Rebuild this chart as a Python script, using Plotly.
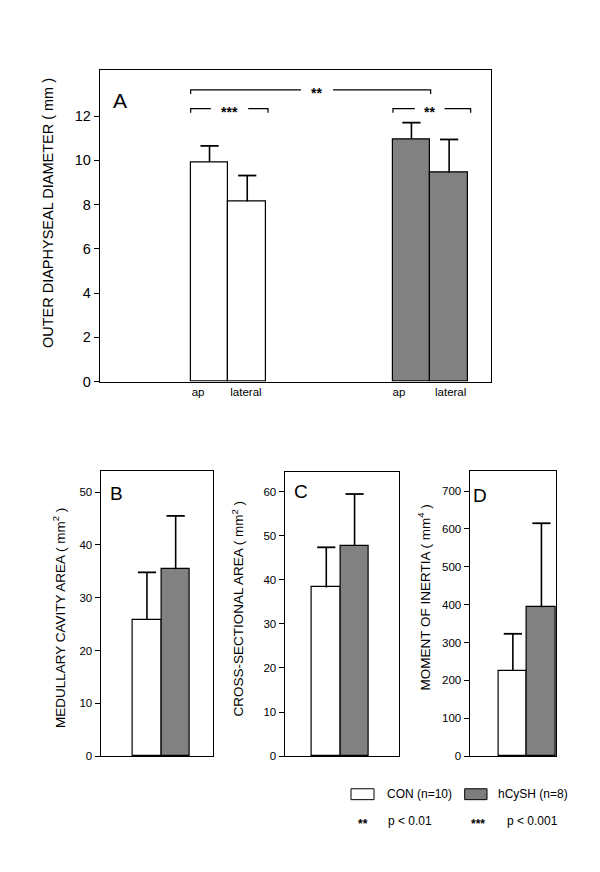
import plotly.graph_objects as go

# ---------------- data ----------------
groups = ["CON (n=10)", "hCySH (n=8)"]
a_sites = ["ap", "lateral"]
a_con_mean = [9.92, 8.14]
a_con_sd = [0.73, 1.17]
a_hcy_mean = [10.96, 9.43]
a_hcy_sd = [0.74, 1.51]

b_mean = [25.8, 35.4]
b_sd = [9.0, 10.1]
c_mean = [38.3, 47.7]
c_sd = [9.1, 11.8]
d_mean = [225, 393]
d_sd = [98, 222]

a_ticks = [0, 2, 4, 6, 8, 10, 12]
b_ticks = [0, 10, 20, 30, 40, 50]
c_ticks = [0, 10, 20, 30, 40, 50, 60]
d_ticks = [0, 100, 200, 300, 400, 500, 600, 700]

W, H = 600, 872
FONT = "Liberation Sans, Arial, Helvetica, sans-serif"
GREY = "#7d7d7d"

def px(x):
    return x / W

def py(y):
    return 1 - y / H

white_marker = dict(color="white", line=dict(color="black", width=1.2))
grey_marker = dict(
    color=GREY,
    line=dict(color="black", width=1.2),
    pattern=dict(shape=".", fgcolor="#4a4a4a", bgcolor="#8e8e8e", size=2, solidity=0.45),
)

fig = go.Figure()

def add_bars(xs, means, sds, marker, xa, ya):
    fig.add_trace(go.Bar(x=xs, y=means, width=1.0, marker=marker,
                         xaxis=xa, yaxis=ya, showlegend=False, hoverinfo="skip"))
    tops = [m + s for m, s in zip(means, sds)]
    # upper error bar only: cap marker at the top, stem down to the mean
    fig.add_trace(go.Scatter(
        x=xs, y=tops, mode="markers", xaxis=xa, yaxis=ya, showlegend=False,
        hoverinfo="skip", cliponaxis=False,
        marker=dict(symbol="line-ew", size=13, color="black",
                    line=dict(color="black", width=1.8)),
        error_y=dict(type="data", array=[0] * len(sds), arrayminus=sds,
                     symmetric=False, color="black", thickness=1.6, width=0),
    ))

# ---- panel A ----
a_group_pos = [2.905, 8.26]   # left bar centre of each group (axis units)
a_con_x = [a_group_pos[0] + i for i in range(len(a_sites))]
a_hcy_x = [a_group_pos[1] + i for i in range(len(a_sites))]
add_bars(a_con_x, a_con_mean, a_con_sd, white_marker, "x", "y")
add_bars(a_hcy_x, a_hcy_mean, a_hcy_sd, grey_marker, "x", "y")

# ---- panels B, C, D ----
small = [
    ("x2", "y2", b_mean, b_sd, 1.61),
    ("x3", "y3", c_mean, c_sd, 1.47),
    ("x4", "y4", d_mean, d_sd, 1.51),
]
for xa, ya, m, s, c0 in small:
    add_bars([c0], [m[0]], [s[0]], white_marker, xa, ya)
    add_bars([c0 + 1], [m[1]], [s[1]], grey_marker, xa, ya)

axis_common = dict(showline=True, mirror=True, linecolor="black", linewidth=1.3,
                   showgrid=False, zeroline=False, fixedrange=True)
yax_common = dict(axis_common, ticks="outside", ticklen=5, tickwidth=1, tickcolor="black")

layout = dict(
    width=W, height=H, margin=dict(l=0, r=0, t=0, b=0),
    paper_bgcolor="white", plot_bgcolor="white",
    font=dict(family=FONT, color="black"),
    bargap=0, barmode="overlay",
    xaxis=dict(axis_common, domain=[px(92), px(483)], range=[0, 10.37],
               tickvals=[2.6, 3.87, 7.93, 9.3], ticktext=a_sites * 2,
               ticks="", tickfont=dict(size=11.5), anchor="y"),
    yaxis=dict(yax_common, domain=[py(377), py(63)], range=[0, 14.06],
               tickvals=a_ticks, tickfont=dict(size=14.5), anchor="x"),
    xaxis2=dict(axis_common, domain=[px(92.7), px(205)], range=[0, 3.91],
                showticklabels=False, ticks="", anchor="y2"),
    yaxis2=dict(yax_common, domain=[py(755), py(467.3)], range=[0, 54.0],
                tickvals=b_ticks, tickfont=dict(size=11.5), anchor="x2"),
    xaxis3=dict(axis_common, domain=[px(276.7), px(390.7)], range=[0, 4.03],
                showticklabels=False, ticks="", anchor="y3"),
    yaxis3=dict(yax_common, domain=[py(755), py(468.3)], range=[0, 64.5],
                tickvals=c_ticks, tickfont=dict(size=11.5), anchor="x3"),
    xaxis4=dict(axis_common, domain=[px(461.7), px(548)], range=[0, 3.02],
                showticklabels=False, ticks="", anchor="y4"),
    yaxis4=dict(yax_common, domain=[py(755), py(467.3)], range=[0, 753],
                tickvals=d_ticks, tickfont=dict(size=11.5), anchor="x4"),
)
fig.update_layout(**layout)

annotations = []
shapes = []

# y-axis titles
ytitles = [
    ("OUTER DIAPHYSEAL DIAMETER ( mm )", 40, 207, 14.5),
    ("MEDULLARY CAVITY AREA ( mm<sup>2</sup> )", 51.7, 616, 13.5),
    ("CROSS-SECTIONAL AREA ( mm<sup>2</sup> )", 230, 606, 13.5),
    ("MOMENT OF INERTIA ( mm<sup>4</sup> )", 416, 595, 13.5),
]
for t, x, y, s in ytitles:
    annotations.append(dict(text=t, x=px(x), y=py(y), xref="paper", yref="paper",
                            textangle=-90, showarrow=False, font=dict(size=s),
                            xanchor="center", yanchor="middle"))

# panel letters
for t, x, y, s in [("A", 111.7, 93, 21), ("B", 108.3, 490, 19),
                   ("C", 293.3, 488.3, 19), ("D", 471.7, 491.7, 19)]:
    annotations.append(dict(text=t, x=px(x), y=py(y), xref="paper", yref="paper",
                            showarrow=False, font=dict(size=s),
                            xanchor="center", yanchor="middle"))

# significance brackets (panel A, axis units)
brackets = [
    # xl, xr, gap_l, gap_r, y, label
    (2.405, 8.77, 5.33, 6.18, 13.18, "**"),
    (2.405, 4.456, 2.94, 3.93, 12.33, "***"),
    (7.77, 9.83, 8.35, 9.14, 12.33, "**"),
]
dy = 0.18
for xl, xr, gl, gr, y, lab in brackets:
    path = (f"M {xl},{y - dy} L {xl},{y} L {gl},{y} "
            f"M {gr},{y} L {xr},{y} L {xr},{y - dy}")
    shapes.append(dict(type="path", path=path, xref="x", yref="y",
                       line=dict(color="black", width=1.2)))
    annotations.append(dict(text=f"<b>{lab}</b>", x=(gl + gr) / 2, y=y, xref="x", yref="y",
                            showarrow=False, font=dict(size=14), yshift=-3,
                            xanchor="center", yanchor="middle"))

# legend
shapes.append(dict(type="rect", x0=px(343), x1=px(366), y0=py(799), y1=py(788),
                   xref="paper", yref="paper", fillcolor="white",
                   line=dict(color="black", width=1)))
shapes.append(dict(type="rect", x0=px(456.7), x1=px(479), y0=py(799), y1=py(788),
                   xref="paper", yref="paper", fillcolor=GREY,
                   line=dict(color="black", width=1)))
leg_texts = [
    (groups[0], 376.7, 793.5, "left"),
    (groups[1], 488, 793.5, "left"),
    ("<b>**</b>", 355, 824, "center"),
    ("p &lt; 0.01", 377.7, 820.5, "left"),
    ("<b>***</b>", 470, 824, "center"),
    ("p &lt; 0.001", 496.7, 820.5, "left"),
]
for t, x, y, anc in leg_texts:
    annotations.append(dict(text=t, x=px(x), y=py(y), xref="paper", yref="paper",
                            showarrow=False, font=dict(size=12),
                            xanchor=anc, yanchor="middle"))

fig.update_layout(annotations=annotations, shapes=shapes)
fig.write_html("out.html")
